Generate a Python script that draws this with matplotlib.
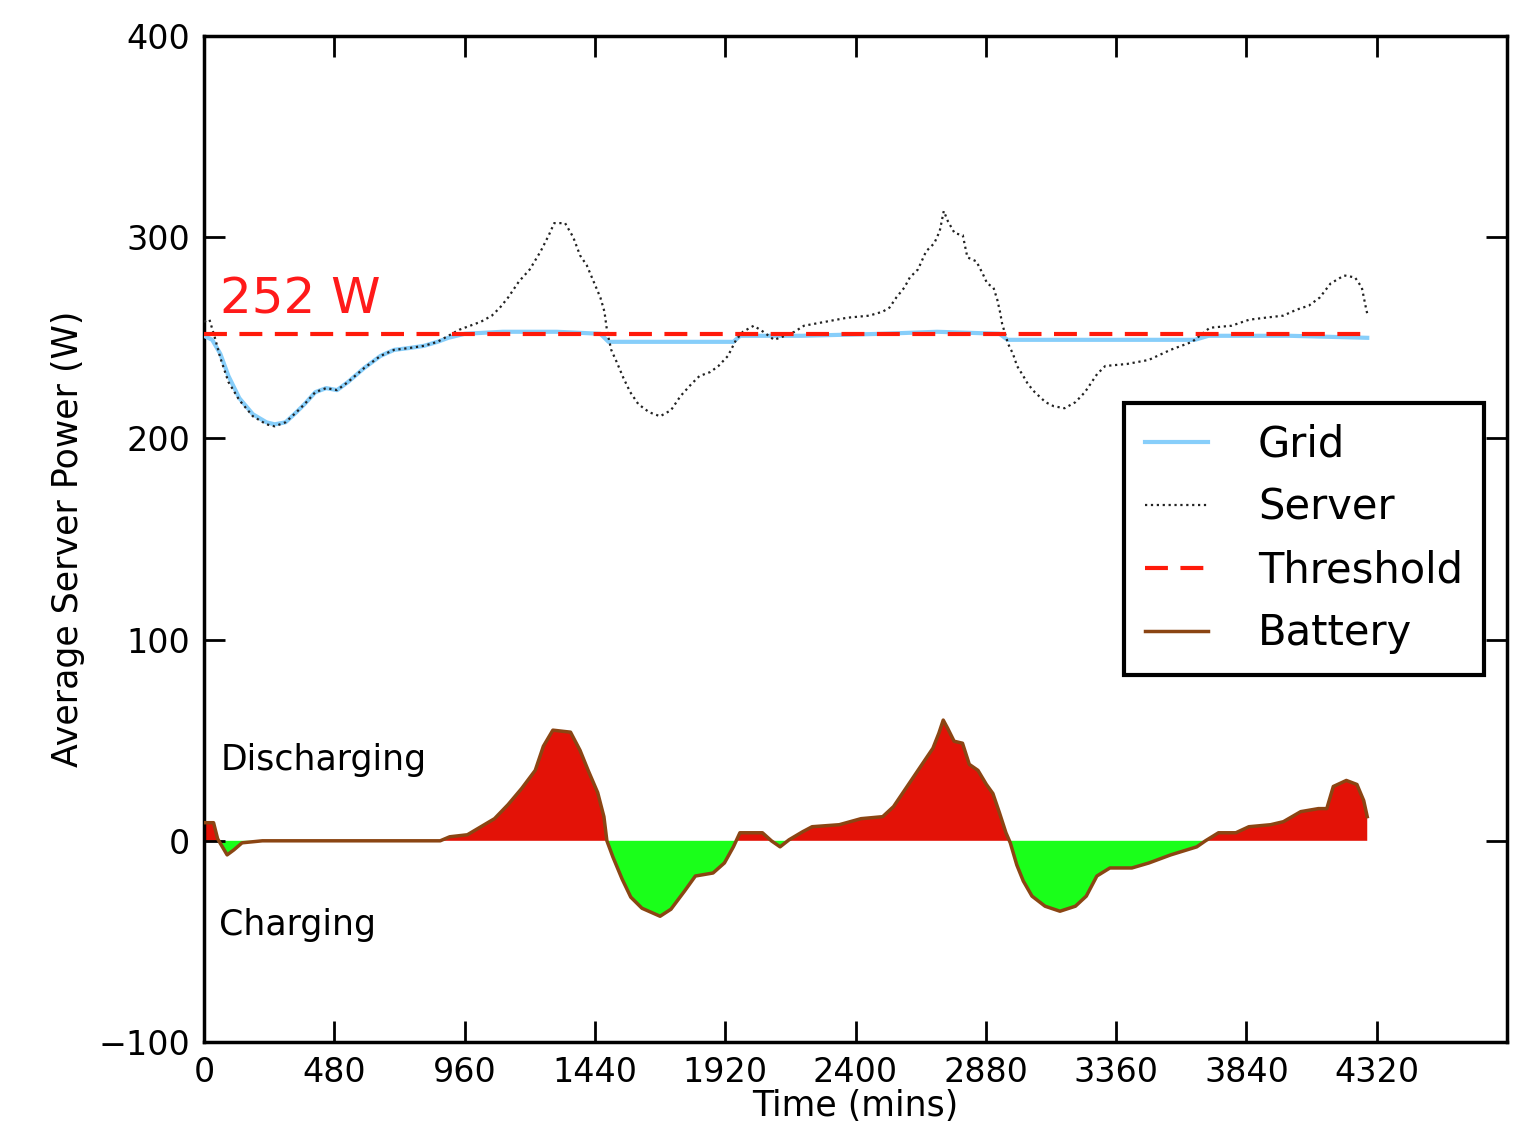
import numpy as np
import matplotlib.pyplot as plt

# values (time in mins, power in W)
threshold = 252

server_t = [0, 20, 40, 60, 90, 130, 180, 230, 260, 300, 340, 370, 410, 450, 490, 530, 590, 650,
            700, 760, 810, 860, 900, 940, 980, 1020, 1060, 1090, 1120, 1160, 1200, 1240, 1270,
            1290, 1330, 1360, 1385, 1410, 1435, 1460, 1475, 1485, 1500, 1520, 1545, 1570, 1600,
            1640, 1680, 1720, 1755, 1795, 1825, 1865, 1895, 1930, 1960, 1985, 2025, 2060, 2100,
            2140, 2175, 2210, 2290, 2370, 2450, 2500, 2525, 2550, 2580, 2600, 2630, 2660, 2690,
            2710, 2725, 2740, 2765, 2795, 2812, 2845, 2868, 2885, 2908, 2922, 2932, 2940, 2962,
            2980, 2995, 3018, 3035, 3060, 3100, 3130, 3170, 3210, 3245, 3270, 3290, 3320, 3400,
            3480, 3560, 3640, 3705, 3785, 3850, 3910, 3975, 4025, 4070, 4110, 4150, 4200, 4240,
            4265, 4280, 4285]
server_w = [258, 259, 250, 240, 228, 219, 211, 207, 206, 208, 213, 217, 223, 225, 224, 228, 235,
            241, 244, 245, 246, 248, 251, 254, 256, 258, 261, 265, 270, 278, 284, 293, 301, 307,
            307, 300, 291, 286, 278, 270, 263, 253, 244, 238, 230, 223, 217, 213, 211, 214, 221,
            227, 231, 233, 236, 241, 249, 253, 256, 253, 249, 251, 253, 256, 258, 260, 261, 263,
            265, 270, 275, 280, 284, 293, 297, 303, 313, 308, 302, 301, 290, 288, 282, 277, 275,
            269, 263, 257, 247, 242, 236, 231, 227, 223, 218, 216, 215, 218, 223, 228, 232, 236,
            237, 239, 244, 248, 255, 256, 259, 260, 261, 264, 266, 270, 277, 281, 280, 275, 265,
            262]

grid_t = [0, 30, 60, 90, 130, 180, 230, 260, 300, 340, 370, 410, 450, 490, 530, 590, 650, 700,
          760, 810, 860, 900, 960, 1100, 1300, 1460, 1490, 1700, 1950, 1975, 2200, 2500, 2700,
          2930, 2960, 3300, 3650, 3700, 4000, 4285]
grid_w = [251, 249, 242, 231, 220, 212, 208, 207, 208, 213, 217, 223, 225, 224, 228, 235, 241,
          244, 245, 246, 248, 250, 252, 253, 253, 252, 248, 248, 248, 251, 251, 252, 253, 252,
          249, 249, 249, 251, 251, 250]

battery_t = [0, 35, 50, 85, 110, 140, 215, 870, 905, 970, 1020, 1070, 1120, 1170, 1220, 1250,
             1285, 1350, 1385, 1415, 1450, 1473, 1484, 1506, 1540, 1572, 1613, 1680, 1720, 1770,
             1810, 1875, 1917, 1950, 1974, 2057, 2090, 2122, 2155, 2205, 2240, 2340, 2420, 2500,
             2540, 2590, 2635, 2685, 2707, 2723, 2739, 2763, 2794, 2819, 2851, 2882, 2906, 2930,
             2954, 2970, 2994, 3018, 3050, 3098, 3153, 3210, 3250, 3289, 3337, 3418, 3481, 3561,
             3657, 3689, 3737, 3801, 3849, 3929, 3976, 4040, 4105, 4136, 4160, 4208, 4247, 4272,
             4285]
battery_w = [9, 9, 1, -7, -4.5, -1, 0, 0, 2, 3, 7, 11, 18, 26, 35, 47, 55, 54, 45, 35, 24, 12,
             0, -8, -19, -28, -33.5, -37.5, -34, -25, -17.5, -16, -11, -3, 4, 4, 0, -3, 0.5, 4.5,
             7, 8, 11, 12, 17, 27, 36, 46, 53.5, 60, 56, 49.5, 48.5, 38, 35, 28, 23.5, 14, 4, -1,
             -12, -20, -27.5, -32.5, -35, -32.5, -27.5, -17.5, -13.5, -13.5, -11, -7, -3, 0, 4,
             4, 7, 8, 9.5, 14.5, 16, 16, 27, 30, 28, 20, 12]

xticks = [0, 480, 960, 1440, 1920, 2400, 2880, 3360, 3840, 4320]
yticks = [-100, 0, 100, 200, 300, 400]

plt.rcParams['xtick.direction'] = 'in'
plt.rcParams['ytick.direction'] = 'in'
plt.rcParams['xtick.top'] = True
plt.rcParams['ytick.right'] = True

fig = plt.figure(figsize=(15.4, 11.22), dpi=100)
ax = fig.add_axes([0.1325, 0.0713, 0.8461, 0.8966])

bt = np.array(battery_t)
bw = np.array(battery_w)
ax.fill_between(bt, 0, bw, where=bw >= 0, interpolate=True, color='#e31207', lw=0)
ax.fill_between(bt, 0, bw, where=bw <= 0, interpolate=True, color='#1aff1a', lw=0)

ax.plot(grid_t, grid_w, color='#87cefa', lw=3, label='Grid', zorder=3)
ax.plot(server_t, server_w, color='#222222', ls=':', lw=1.6, label='Server', zorder=4)
ax.hlines(threshold, battery_t[0], battery_t[-1], colors='#ff1a0a', linestyles=(0, (5.5, 3)),
          lw=3, label='Threshold', zorder=5)
ax.plot(battery_t, battery_w, color='#8b4513', lw=2.5, label='Battery', zorder=3)

ax.text(60, 262, f'{threshold} W', color='#ff1a1a', fontsize=36)
ax.text(62, 40, 'Discharging', fontsize=25, va='center')
ax.text(55, -42, 'Charging', fontsize=25, va='center')

ax.set_xlim(0, 4800)
ax.set_ylim(-100, 400)
ax.set_xticks(xticks)
ax.set_yticks(yticks)
ax.tick_params(labelsize=24, length=15, width=2, pad=10)
for s in ax.spines.values():
    s.set_linewidth(2.5)

ax.set_xlabel('Time (mins)', fontsize=25, labelpad=0)
ax.set_ylabel('Average Server Power (W)', fontsize=25, labelpad=10)

leg = ax.legend(loc='center right', bbox_to_anchor=(0.982, 0.5), borderaxespad=0,
                fontsize=30, fancybox=False, framealpha=1, edgecolor='black',
                handlelength=1.5, handletextpad=1.2, borderpad=0.5, labelspacing=0.5)
leg.get_frame().set_linewidth(3)

fig.savefig('out.png', dpi=100)
